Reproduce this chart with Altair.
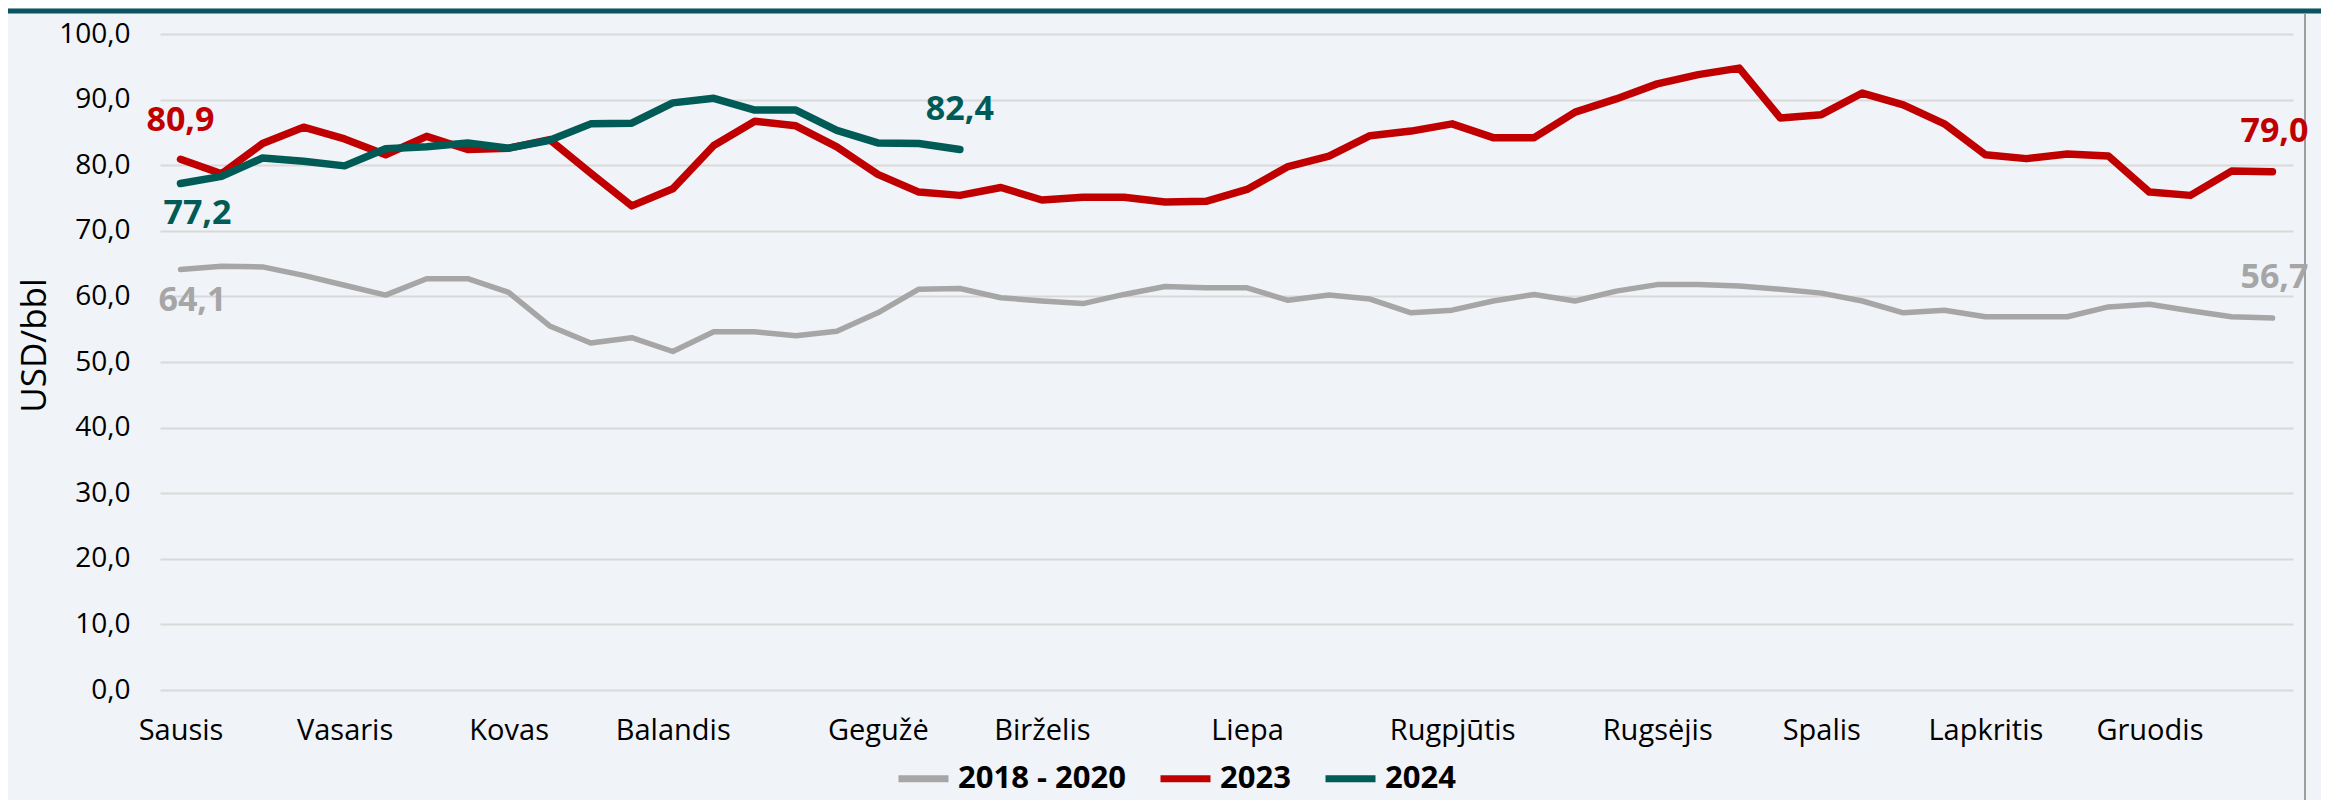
import altair as alt
import pandas as pd

# ---- data ----
weeks = list(range(52))
avg_2018_2020 = [64.1, 64.6, 64.5, 63.2, 61.7, 60.2, 62.7, 62.7, 60.6, 55.5,
                 52.9, 53.7, 51.6, 54.6, 54.6, 54.0, 54.7, 57.5, 61.1, 61.2,
                 59.8, 59.3, 58.9, 60.3, 61.5, 61.3, 61.3, 59.4, 60.2, 59.6,
                 57.5, 57.9, 59.3, 60.3, 59.3, 60.8, 61.8, 61.8, 61.6, 61.1,
                 60.5, 59.3, 57.5, 57.9, 56.9, 56.9, 56.9, 58.4, 58.8, 57.8,
                 56.9, 56.7]
y2023 = [80.9, 78.7, 83.3, 85.8, 84.0, 81.6, 84.4, 82.4, 82.6, 83.9,
         78.8, 73.8, 76.4, 83.0, 86.7, 86.0, 82.8, 78.6, 75.9, 75.4,
         76.6, 74.7, 75.1, 75.1, 74.4, 74.5, 76.3, 79.8, 81.4, 84.5,
         85.2, 86.3, 84.2, 84.2, 88.1, 90.1, 92.4, 93.8, 94.8, 87.2,
         87.7, 91.0, 89.2, 86.3, 81.6, 81.0, 81.7, 81.4, 75.9, 75.4,
         79.1, 79.0]
y2024 = [77.2, 78.3, 81.1, 80.6, 79.9, 82.5, 82.8, 83.4, 82.6, 83.8,
         86.3, 86.4, 89.5, 90.2, 88.4, 88.4, 85.3, 83.4, 83.3, 82.4]

series_names = ["2018 - 2020", "2023", "2024"]
series_colors = ["#A6A6A6", "#C00000", "#005A55"]
month_labels = ["Sausis", "Vasaris", "Kovas", "Balandis", "Gegužė", "Birželis",
                "Liepa", "Rugpjūtis", "Rugsėjis", "Spalis", "Lapkritis", "Gruodis"]
month_weeks = [0, 4, 8, 12, 17, 21, 26, 31, 36, 40, 44, 48]
y_ticks = [0, 10, 20, 30, 40, 50, 60, 70, 80, 90, 100]

rows = []
for name, vals in zip(series_names, [avg_2018_2020, y2023, y2024]):
    for w, v in zip(weeks, vals):
        rows.append({"week": w, "value": v, "series": name})
df = pd.DataFrame(rows)

FONT = "Open Sans"

label_expr = "[" + ",".join("'" + m + "'" for m in month_labels) + "][indexof([" + \
    ",".join(str(w) for w in month_weeks) + "], datum.value)]"

x_enc = alt.X(
    "week:Q",
    scale=alt.Scale(domain=[-0.5, 51.5], nice=False, zero=False),
    axis=alt.Axis(values=month_weeks, labelExpr=label_expr, title=None, grid=False,
                  ticks=False, domain=False, labelFont=FONT, labelFontSize=29,
                  labelColor="#000000", labelPadding=26, labelFlush=False,
                  labelOverlap=False),
)
y_enc = alt.Y(
    "value:Q",
    scale=alt.Scale(domain=[0, 100], nice=False),
    axis=alt.Axis(values=y_ticks, labelExpr="replace(format(datum.value, '.1f'), '.', ',')",
                  title="USD/bbl", titleFont=FONT, titleFontSize=35, titleFontWeight="normal",
                  titleColor="#000000", titleAngle=270, titleX=-126, titleY=311,
                  titleAlign="center", titleBaseline="middle",
                  grid=True, gridColor="#D9D9D9", gridWidth=2, ticks=False, domain=False,
                  labelFont=FONT, labelFontSize=28, labelColor="#000000", labelPadding=30),
)
color_enc = alt.Color(
    "series:N",
    scale=alt.Scale(domain=series_names, range=series_colors),
    legend=alt.Legend(title=None, orient="none", legendX=735, legendY=716,
                      direction="horizontal", symbolType="stroke", symbolSize=2500,
                      symbolStrokeWidth=7, labelFont=FONT, labelFontSize=31,
                      labelFontWeight="bold", labelColor="#000000", labelOffset=6,
                      labelLimit=500, columnPadding=20, padding=0),
)


def line_layer(name, width):
    return alt.Chart(df).transform_filter(alt.datum.series == name).mark_line(
        strokeWidth=width, strokeCap="round", strokeJoin="round"
    ).encode(x=x_enc, y=y_enc, color=color_enc)


def label_layer(vals, idx, color, dx, dy):
    d = pd.DataFrame({"week": [weeks[idx]], "value": [vals[idx]]})
    d["txt"] = d["value"].map(lambda v: f"{v:.1f}".replace(".", ","))
    return alt.Chart(d).mark_text(
        color=color, font=FONT, fontSize=34, fontWeight="bold", dx=dx, dy=dy,
        baseline="middle", align="center"
    ).encode(x=x_enc, y=y_enc, text="txt:N")


frame = pd.DataFrame({"k": [0]})
top_bar = alt.Chart(frame).mark_rule(color="#0B5560", strokeWidth=5).encode(
    x=alt.value(-152), x2=alt.value(2161), y=alt.value(-23))
right_border = alt.Chart(frame).mark_rule(color="#9E9E9E", strokeWidth=2).encode(
    x=alt.value(2145), y=alt.value(-21), y2=alt.value(766))

chart = alt.layer(
    top_bar,
    right_border,
    line_layer("2018 - 2020", 5.5),
    line_layer("2023", 7.5),
    line_layer("2024", 7.5),
    label_layer(y2023, 0, "#C00000", 0, -38),
    label_layer(y2024, 0, "#005A55", 17, 30),
    label_layer(avg_2018_2020, 0, "#A6A6A6", 12, 31),
    label_layer(y2024, len(y2024) - 1, "#005A55", 0, -39),
    label_layer(y2023, len(y2023) - 1, "#C00000", 2, -40),
    label_layer(avg_2018_2020, len(avg_2018_2020) - 1, "#A6A6A6", 2, -40),
).properties(
    width=2133, height=656,
    autosize=alt.AutoSizeParams(type="none"),
    padding={"left": 152, "top": 26, "right": 28, "bottom": 110},
    background="#F0F3F7",
).configure_view(stroke=None)

chart.save("out.html", embed_options={"renderer": "svg", "actions": False})
